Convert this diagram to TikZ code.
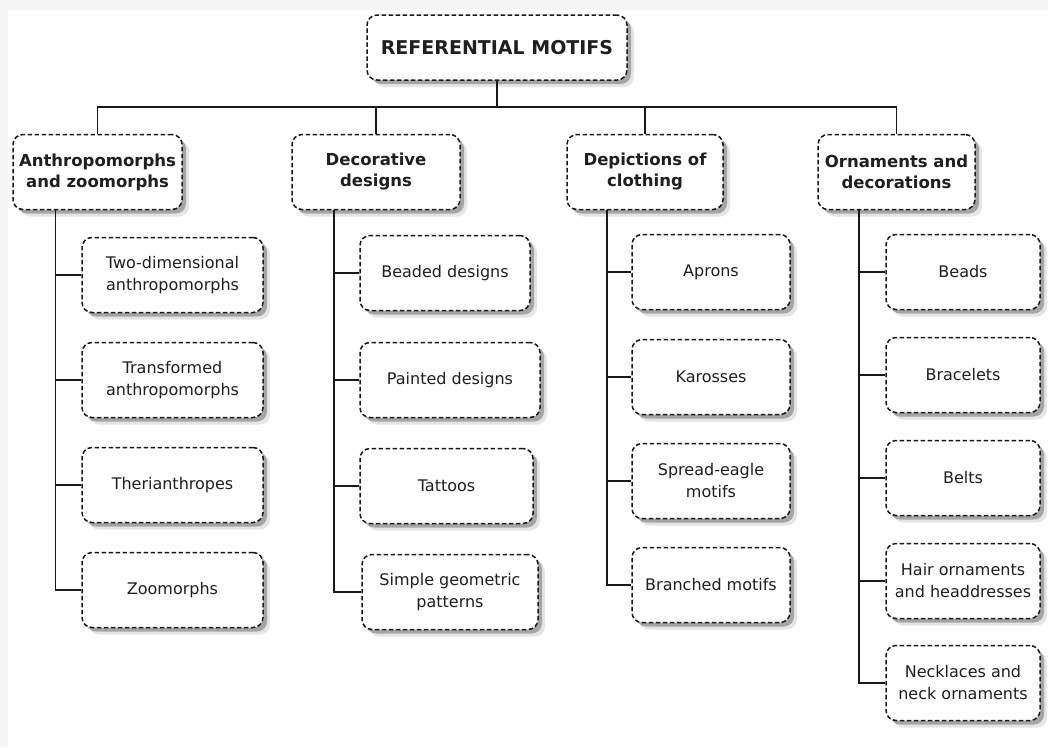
\documentclass[tikz,border=0pt]{standalone}
\usepackage{fontspec}
\setmainfont{DejaVu Sans}
\usepackage{tikz}
\usetikzlibrary{positioning, calc, shadows}

\tikzset{
	motif/.style={rectangle, rounded corners=10pt, draw=black!90, line width=1.5pt,
		dash pattern=on 4.5pt off 2.5pt, fill=white, align=center, text=black!88,
		inner sep=2pt,
		general shadow={shadow xshift=7pt, shadow yshift=-7pt, fill=black, opacity=0.1},
		drop shadow={shadow xshift=4pt, shadow yshift=-4pt, fill=black, opacity=0.28}},
	topbox/.style={motif, font=\fontsize{19}{22}\selectfont\bfseries},
	groupbox/.style={motif, minimum height=75pt, font=\fontsize{16.5}{21}\selectfont\bfseries},
	itembox/.style={motif, minimum height=75pt, font=\fontsize{16}{22}\selectfont},
	link/.style={line width=1.6pt, draw=black!90}
}

\begin{document}
\begin{tikzpicture}[x=1pt, y=-1pt]
	
	% background
	\useasboundingbox (0,0) rectangle (1048,747);
	\fill[gray!8] (0,0) rectangle (1048,747);
	\fill[white] (8,10) rectangle (1048,747);
	
	% Nodes
	\node[topbox, minimum width=260pt, minimum height=65pt] (title) at (497,47.5) {REFERENTIAL MOTIFS};
	
	\node[groupbox, minimum width=169pt] (anthro) at (97.5,172) {Anthropomorphs\\and zoomorphs};
	\node[groupbox, minimum width=168pt] (decor) at (376,172) {Decorative\\designs};
	\node[groupbox, minimum width=156pt] (cloth) at (645,172) {Depictions of\\clothing};
	\node[groupbox, minimum width=157pt] (orna) at (896.5,172) {Ornaments and\\decorations};
	
	\node[itembox, minimum width=181pt] (twodim) at (172.5,275) {Two-dimensional\\anthropomorphs};
	\node[itembox, minimum width=181pt] (transf) at (172.5,380) {Transformed\\anthropomorphs};
	\node[itembox, minimum width=181pt] (theri) at (172.5,485) {Therianthropes};
	\node[itembox, minimum width=181pt] (zoom) at (172.5,590) {Zoomorphs};
	
	\node[itembox, minimum width=170pt] (beaded) at (445,273) {Beaded designs};
	\node[itembox, minimum width=180pt] (painted) at (450,380) {Painted designs};
	\node[itembox, minimum width=173pt] (tattoo) at (446.5,486) {Tattoos};
	\node[itembox, minimum width=176pt] (geom) at (450,592) {Simple geometric\\patterns};
	
	\node[itembox, minimum width=158pt] (apron) at (711,272) {Aprons};
	\node[itembox, minimum width=158pt] (kaross) at (711,377) {Karosses};
	\node[itembox, minimum width=158pt] (eagle) at (711,481) {Spread-eagle\\motifs};
	\node[itembox, minimum width=158pt] (branch) at (711,585) {Branched motifs};
	
	\node[itembox, minimum width=154pt] (beads) at (963,272) {Beads};
	\node[itembox, minimum width=154pt] (brace) at (963,375) {Bracelets};
	\node[itembox, minimum width=154pt] (belts) at (963,478) {Belts};
	\node[itembox, minimum width=154pt] (hair) at (963,581) {Hair ornaments\\and headdresses};
	\node[itembox, minimum width=154pt] (neck) at (963,683) {Necklaces and\\neck ornaments};
	
	% Lines
	\coordinate (bus) at (497,107);
	\draw[link] (title.south) -- (bus);
	\draw[link] (anthro.north) |- (bus) -| (orna.north);
	\draw[link] (decor.north) -- (decor.north |- bus);
	\draw[link] (cloth.north) -- (cloth.north |- bus);
	
	\coordinate (t1) at ([xshift=-42pt]anthro.south);
	\coordinate (t2) at ([xshift=-42pt]decor.south);
	\coordinate (t3) at ([xshift=-38pt]cloth.south);
	\coordinate (t4) at ([xshift=-37.5pt]orna.south);
	
	\draw[link] (t1) |- (zoom.west);
	\foreach \n in {twodim, transf, theri}
		\draw[link] (\n.west) -- (\n.west -| t1);
	
	\draw[link] (t2) |- (geom.west);
	\foreach \n in {beaded, painted, tattoo}
		\draw[link] (\n.west) -- (\n.west -| t2);
	
	\draw[link] (t3) |- (branch.west);
	\foreach \n in {apron, kaross, eagle}
		\draw[link] (\n.west) -- (\n.west -| t3);
	
	\draw[link] (t4) |- (neck.west);
	\foreach \n in {beads, brace, belts, hair}
		\draw[link] (\n.west) -- (\n.west -| t4);
	
\end{tikzpicture}
\end{document}
